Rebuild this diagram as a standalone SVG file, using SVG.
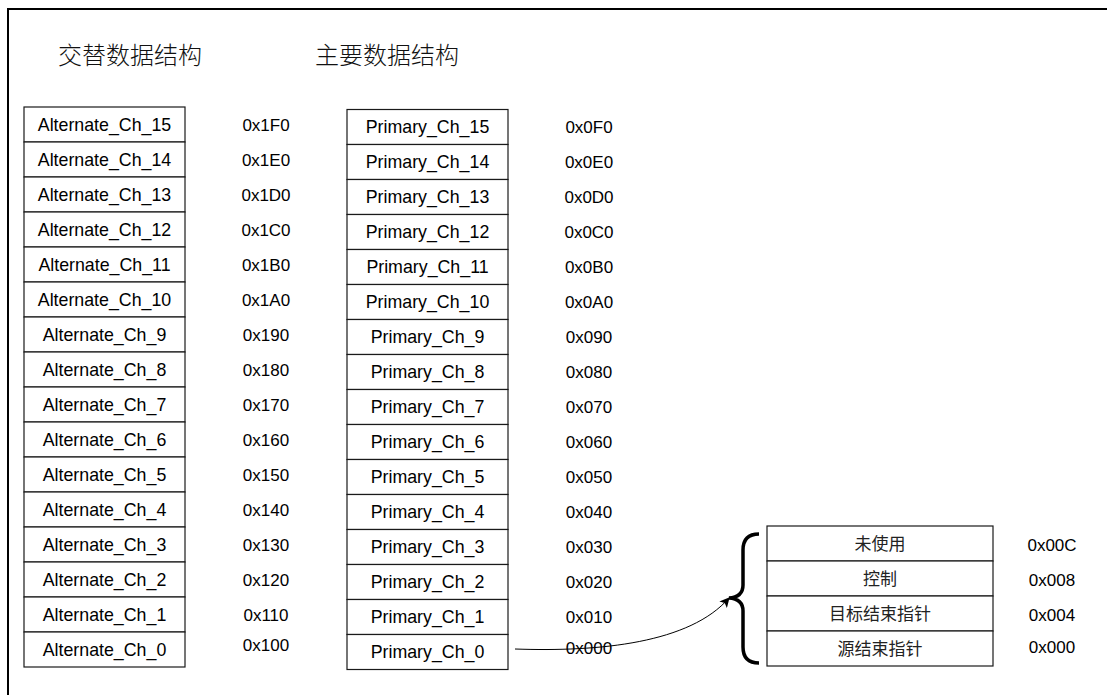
<svg xmlns="http://www.w3.org/2000/svg" width="1107" height="695" viewBox="0 0 1107 695">
<style>
.cell{fill:#fff;stroke:#1a1a1a;stroke-width:1.2}
.lbl{font-family:"Liberation Sans",Arial,sans-serif;font-size:17px;fill:#000;text-anchor:middle}
.nm{font-size:17.8px}
.cjk{font-family:"Noto Sans CJK SC",sans-serif;font-size:17px;fill:#222;text-anchor:middle}
.hdr{font-family:"Noto Sans CJK SC",sans-serif;font-size:24px;fill:#111;font-weight:300}
.conn{fill:none;stroke:#000;stroke-width:1}
</style>
<defs>
<marker id="arr" viewBox="0 0 10 10" refX="9" refY="5" markerWidth="10" markerHeight="10" markerUnits="userSpaceOnUse" orient="auto">
<path d="M0,0 L10,5 L0,10 L2.5,5 Z" fill="#000"/>
</marker>
</defs>
<rect width="1107" height="695" fill="#fff"/>
<rect x="8" y="9" width="1110" height="700" fill="none" stroke="#000" stroke-width="2"/>
<text class="hdr" x="58" y="64">交替数据结构</text>
<text class="hdr" x="315" y="64">主要数据结构</text>
<g id="alternate">
<g id="alt15"><rect class="cell" x="24" y="107" width="161" height="35"/><text class="lbl nm" x="104.5" y="130.5">Alternate_Ch_15</text><text class="lbl" x="266" y="130.5">0x1F0</text></g>
<g id="alt14"><rect class="cell" x="24" y="142" width="161" height="35"/><text class="lbl nm" x="104.5" y="165.5">Alternate_Ch_14</text><text class="lbl" x="266" y="165.5">0x1E0</text></g>
<g id="alt13"><rect class="cell" x="24" y="177" width="161" height="35"/><text class="lbl nm" x="104.5" y="200.5">Alternate_Ch_13</text><text class="lbl" x="266" y="200.5">0x1D0</text></g>
<g id="alt12"><rect class="cell" x="24" y="212" width="161" height="35"/><text class="lbl nm" x="104.5" y="235.5">Alternate_Ch_12</text><text class="lbl" x="266" y="235.5">0x1C0</text></g>
<g id="alt11"><rect class="cell" x="24" y="247" width="161" height="35"/><text class="lbl nm" x="104.5" y="270.5">Alternate_Ch_11</text><text class="lbl" x="266" y="270.5">0x1B0</text></g>
<g id="alt10"><rect class="cell" x="24" y="282" width="161" height="35"/><text class="lbl nm" x="104.5" y="305.5">Alternate_Ch_10</text><text class="lbl" x="266" y="305.5">0x1A0</text></g>
<g id="alt9"><rect class="cell" x="24" y="317" width="161" height="35"/><text class="lbl nm" x="104.5" y="340.5">Alternate_Ch_9</text><text class="lbl" x="266" y="340.5">0x190</text></g>
<g id="alt8"><rect class="cell" x="24" y="352" width="161" height="35"/><text class="lbl nm" x="104.5" y="375.5">Alternate_Ch_8</text><text class="lbl" x="266" y="375.5">0x180</text></g>
<g id="alt7"><rect class="cell" x="24" y="387" width="161" height="35"/><text class="lbl nm" x="104.5" y="410.5">Alternate_Ch_7</text><text class="lbl" x="266" y="410.5">0x170</text></g>
<g id="alt6"><rect class="cell" x="24" y="422" width="161" height="35"/><text class="lbl nm" x="104.5" y="445.5">Alternate_Ch_6</text><text class="lbl" x="266" y="445.5">0x160</text></g>
<g id="alt5"><rect class="cell" x="24" y="457" width="161" height="35"/><text class="lbl nm" x="104.5" y="480.5">Alternate_Ch_5</text><text class="lbl" x="266" y="480.5">0x150</text></g>
<g id="alt4"><rect class="cell" x="24" y="492" width="161" height="35"/><text class="lbl nm" x="104.5" y="515.5">Alternate_Ch_4</text><text class="lbl" x="266" y="515.5">0x140</text></g>
<g id="alt3"><rect class="cell" x="24" y="527" width="161" height="35"/><text class="lbl nm" x="104.5" y="550.5">Alternate_Ch_3</text><text class="lbl" x="266" y="550.5">0x130</text></g>
<g id="alt2"><rect class="cell" x="24" y="562" width="161" height="35"/><text class="lbl nm" x="104.5" y="585.5">Alternate_Ch_2</text><text class="lbl" x="266" y="585.5">0x120</text></g>
<g id="alt1"><rect class="cell" x="24" y="597" width="161" height="35"/><text class="lbl nm" x="104.5" y="620.5">Alternate_Ch_1</text><text class="lbl" x="266" y="620.5">0x110</text></g>
<g id="alt0"><rect class="cell" x="24" y="632" width="161" height="35"/><text class="lbl nm" x="104.5" y="655.5">Alternate_Ch_0</text><text class="lbl" x="266" y="651">0x100</text></g>
</g>
<g id="primary">
<g id="pri15"><rect class="cell" x="347" y="109.5" width="161" height="35"/><text class="lbl nm" x="427.5" y="133">Primary_Ch_15</text><text class="lbl" x="589" y="133">0x0F0</text></g>
<g id="pri14"><rect class="cell" x="347" y="144.5" width="161" height="35"/><text class="lbl nm" x="427.5" y="168">Primary_Ch_14</text><text class="lbl" x="589" y="168">0x0E0</text></g>
<g id="pri13"><rect class="cell" x="347" y="179.5" width="161" height="35"/><text class="lbl nm" x="427.5" y="203">Primary_Ch_13</text><text class="lbl" x="589" y="203">0x0D0</text></g>
<g id="pri12"><rect class="cell" x="347" y="214.5" width="161" height="35"/><text class="lbl nm" x="427.5" y="238">Primary_Ch_12</text><text class="lbl" x="589" y="238">0x0C0</text></g>
<g id="pri11"><rect class="cell" x="347" y="249.5" width="161" height="35"/><text class="lbl nm" x="427.5" y="273">Primary_Ch_11</text><text class="lbl" x="589" y="273">0x0B0</text></g>
<g id="pri10"><rect class="cell" x="347" y="284.5" width="161" height="35"/><text class="lbl nm" x="427.5" y="308">Primary_Ch_10</text><text class="lbl" x="589" y="308">0x0A0</text></g>
<g id="pri9"><rect class="cell" x="347" y="319.5" width="161" height="35"/><text class="lbl nm" x="427.5" y="343">Primary_Ch_9</text><text class="lbl" x="589" y="343">0x090</text></g>
<g id="pri8"><rect class="cell" x="347" y="354.5" width="161" height="35"/><text class="lbl nm" x="427.5" y="378">Primary_Ch_8</text><text class="lbl" x="589" y="378">0x080</text></g>
<g id="pri7"><rect class="cell" x="347" y="389.5" width="161" height="35"/><text class="lbl nm" x="427.5" y="413">Primary_Ch_7</text><text class="lbl" x="589" y="413">0x070</text></g>
<g id="pri6"><rect class="cell" x="347" y="424.5" width="161" height="35"/><text class="lbl nm" x="427.5" y="448">Primary_Ch_6</text><text class="lbl" x="589" y="448">0x060</text></g>
<g id="pri5"><rect class="cell" x="347" y="459.5" width="161" height="35"/><text class="lbl nm" x="427.5" y="483">Primary_Ch_5</text><text class="lbl" x="589" y="483">0x050</text></g>
<g id="pri4"><rect class="cell" x="347" y="494.5" width="161" height="35"/><text class="lbl nm" x="427.5" y="518">Primary_Ch_4</text><text class="lbl" x="589" y="518">0x040</text></g>
<g id="pri3"><rect class="cell" x="347" y="529.5" width="161" height="35"/><text class="lbl nm" x="427.5" y="553">Primary_Ch_3</text><text class="lbl" x="589" y="553">0x030</text></g>
<g id="pri2"><rect class="cell" x="347" y="564.5" width="161" height="35"/><text class="lbl nm" x="427.5" y="588">Primary_Ch_2</text><text class="lbl" x="589" y="588">0x020</text></g>
<g id="pri1"><rect class="cell" x="347" y="599.5" width="161" height="35"/><text class="lbl nm" x="427.5" y="623">Primary_Ch_1</text><text class="lbl" x="589" y="623">0x010</text></g>
<g id="pri0"><rect class="cell" x="347" y="634.5" width="161" height="35"/><text class="lbl nm" x="427.5" y="658">Primary_Ch_0</text><text class="lbl" x="589" y="654">0x000</text></g>
</g>
<g id="channel">
<g id="unused"><rect class="cell" x="767" y="526" width="226" height="35"/><text class="cjk" x="880" y="550">未使用</text><text class="lbl" x="1052" y="551">0x00C</text></g>
<g id="control"><rect class="cell" x="767" y="561" width="226" height="35"/><text class="cjk" x="880" y="585">控制</text><text class="lbl" x="1052" y="586">0x008</text></g>
<g id="dstend"><rect class="cell" x="767" y="596" width="226" height="35"/><text class="cjk" x="880" y="620">目标结束指针</text><text class="lbl" x="1052" y="621">0x004</text></g>
<g id="srcend"><rect class="cell" x="767" y="631" width="226" height="35"/><text class="cjk" x="880" y="655">源结束指针</text><text class="lbl" x="1052" y="653">0x000</text></g>
</g>
<g id="brace">
<path d="M759,534 Q743,534 743,550 L743,585 Q743,597 729,598 Q743,599 743,611 L743,647 Q743,663 759,663" fill="none" stroke="#000" stroke-width="3.5"/>
</g>
<g id="connectors">
<path class="conn" d="M515,649 C600,652 690,643 729,598" marker-end="url(#arr)"/>
</g>
</svg>
